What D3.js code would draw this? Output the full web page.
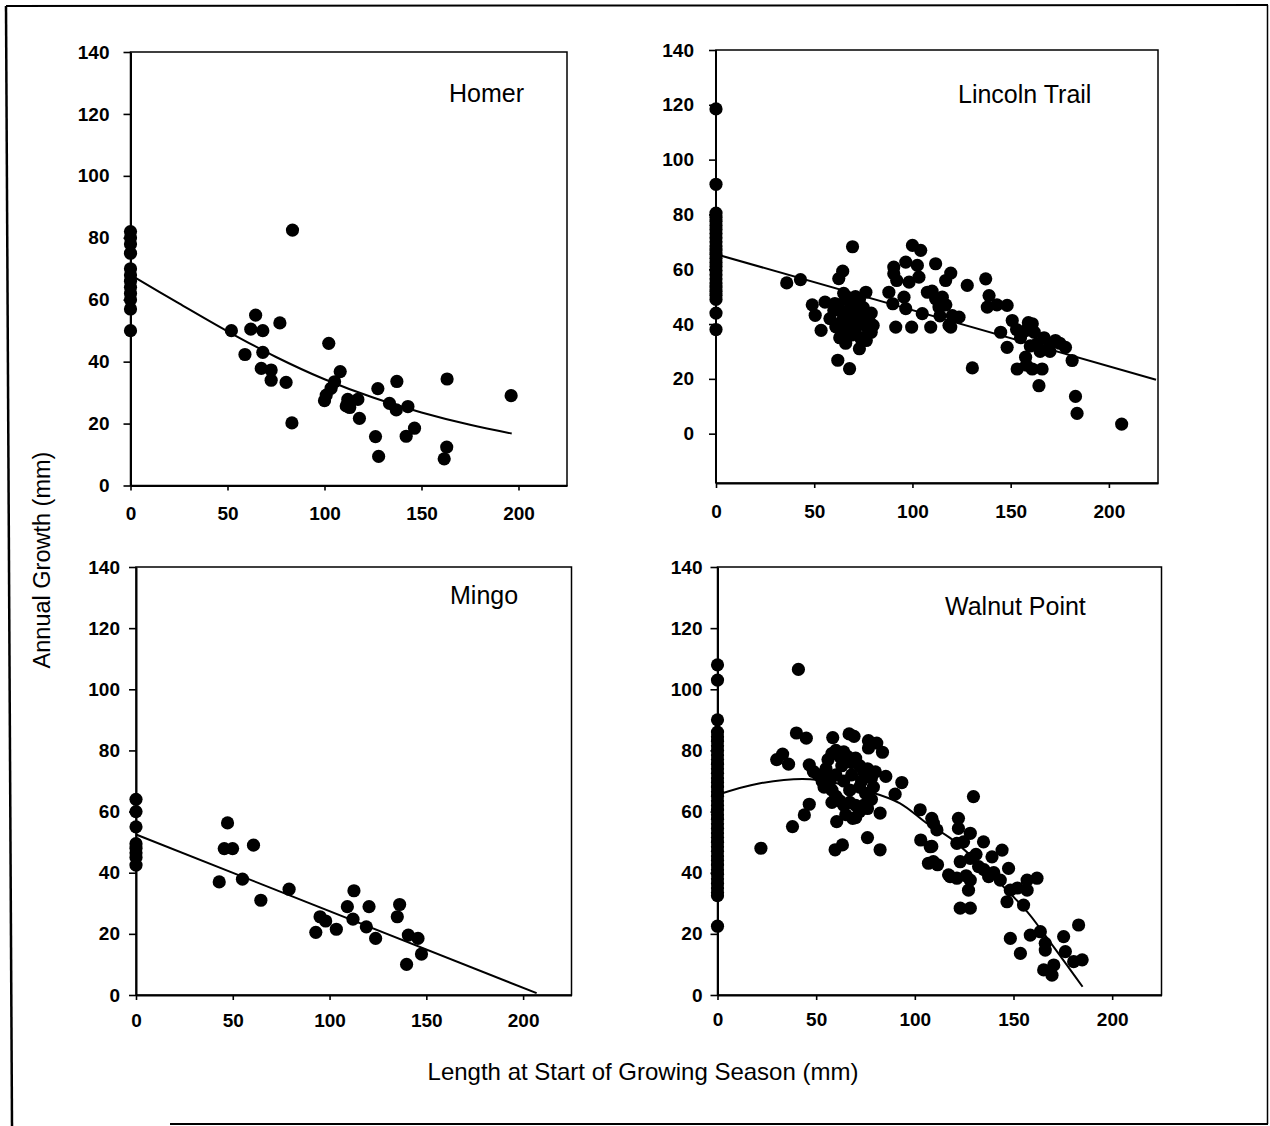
<!DOCTYPE html>
<html><head><meta charset="utf-8">
<script src="https://cdn.jsdelivr.net/npm/d3@7"></script>
<style>
body{margin:0;background:#fff}
svg{display:block}
text{font-family:"Liberation Sans",Arial,Helvetica,sans-serif;fill:#000}
</style></head>
<body><svg id="chart" width="1270" height="1126"></svg>
<script>
// ---------- data ----------
const xTicks = [0, 50, 100, 150, 200];
const yTicks = [0, 20, 40, 60, 80, 100, 120, 140];
const siteNames = ["Homer", "Lincoln Trail", "Mingo", "Walnut Point"];
const xTitle = "Length at Start of Growing Season (mm)";
const yTitle = "Annual Growth (mm)";

// [length at start (mm), annual growth (mm)]
const homerPoints = [
  [0,82],[0,80],[0,78],[0,75],[0,70],[0,68],[0,66],[0,64],[0,62],[0,60],[0,57],[0,50],
  [52,50],[62,50.5],[64.5,55],[68.2,50],[77,52.5],[59,42.3],[68.2,43],[67.4,37.8],[72.5,37.3],
  [72.5,34],[80.2,33.3],[83.5,82.5],[83.2,20.2],[102.2,45.9],[108.1,36.8],[105.2,33.5],
  [103.4,31.4],[100.9,29.2],[100,27.4],[112,27.8],[117.2,27.8],[111.2,25.7],[113,25.2],
  [118,21.7],[126.3,15.8],[127.5,31.3],[127.9,9.4],[133.5,26.5],[137.3,33.6],[137,24.4],
  [143,25.5],[142.1,15.9],[146.4,18.5],[163.2,34.4],[163,12.4],[161.7,8.6],[196.2,29]
];
const homerFit = [[0,68],[25,58.8],[50,49.8],[75,41.5],[100,34.3],[125,28.4],[150,23.6],[175,19.6],[196.5,16.8]];

const lincolnPoints = [
  [0,118.5],[0,91],[0,80.5],[0,79],[0,77.5],[0,76],[0,74.5],[0,73],[0,71.5],[0,70],[0,68.5],
  [0,67],[0,65.5],[0,64],[0,62.5],[0,61],[0,59.5],[0,58],[0,56.5],[0,55],[0,53.5],[0,52],
  [0,50.5],[0,49],[0,44],[0,38],
  [36,55],[43,56.2],[49,47],[55.5,48],[50.5,43.2],[53.5,37.7],[62,26.8],[68,23.7],[69.5,68.2],
  [62.5,56.6],[64.5,59.3],[65,51.2],[76.3,51.6],[73,31],[79,37],
  [58,42],[60,45],[61,39],[62,47],[63,35],[64,41],[64.5,44],[65,37.5],[66,49],[67,42],[67.5,39],
  [68,45.5],[69,36],[70,47.5],[70.5,41],[71,38],[72,44],[73,49],[73.5,35],[74.5,40.5],[75,46],
  [76,43],[76.5,34],[77.5,38],[78,41],[79,44],[80,39.5],[66,33],[71,50],[60.5,47.5],
  [88,51.6],[90,47.4],[90.5,60.8],[90.5,58.4],[92,55.9],[96.6,62.6],[102.5,61.4],[103.3,57.1],
  [98.3,55.3],[95.7,49.8],[96.6,45.6],[91.5,38.9],[99.6,38.9],[100,68.7],[104.2,66.9],
  [107.6,51.6],[111.8,49.2],[105,43.8],[109.3,38.9],[113.5,46.2],[111.8,62],[119.5,58.6],
  [116.9,55.9],[119.5,38.9],[120.3,43.1],[115.2,49.8],[118.6,39.5],[123.7,42.5],[110,52],
  [114,43],[117,47],[127.9,54.1],[130.5,24],
  [137.3,56.5],[139,50.4],[138.1,46.2],[148.2,46.8],[143,47],[150.8,41.3],[144.9,37],[148.2,31.5],
  [161,40.1],[157.6,37.6],[163.5,32.8],[157.6,27.9],[153.3,23.6],[161,23.6],[166,23.6],[164.4,17.5],
  [172.8,34],[177.9,31.5],[169.4,31.5],[181.3,26.7],[183,13.6],[183.8,7.4],[206.5,3.5],
  [155,35],[159,40.5],[162,37],[165,30],[167,35],[160,32],[153,38],[170,30],[175,33],[158,25]
];
const lincolnFit = [[0,65.5],[224,19.7]];

const mingoPoints = [
  [0,64],[0,60],[0,55],[0,49.5],[0,48],[0,46.5],[0,45],[0,42.5],
  [43,37],[47.3,56.3],[45.6,47.9],[49.9,47.9],[60.7,49],[55,37.9],[64.5,31],[79.1,34.6],
  [92.9,20.5],[95.1,25.6],[98,24.2],[103.5,21.5],[109.2,28.9],[112.6,34.1],[112.1,24.8],
  [120.4,28.9],[119,22.3],[123.8,18.5],[135,25.6],[136.2,29.6],[140.7,19.6],[139.8,10],
  [145.7,18.5],[147.5,13.4]
];
const mingoFit = [[0,52.5],[207,0.6]];

const walnutPoints = [
  [0,108],[0,103],[0,90],[0,86],[0,84.5],[0,83],[0,81.5],[0,80],[0,78.5],[0,77],[0,75.5],[0,74],
  [0,72.5],[0,71],[0,69.5],[0,68],[0,66.5],[0,65],[0,63.5],[0,62],[0,60.5],[0,59],[0,57.5],[0,56],
  [0,54.5],[0,53],[0,51.5],[0,50],[0,48.5],[0,47],[0,45.5],[0,44],[0,42.5],[0,41],[0,39.5],[0,38],
  [0,36.5],[0,35],[0,33.5],[0,32.5],[0,22.5],
  [22,48],[30,77],[33,78.8],[36,75.5],[41,106.5],[40,85.7],[45,84],[38,55.1],[44,58.9],[46.5,62.4],
  [46.5,75.3],[48.6,73.1],[51,72],[53,70],[55,74],[54,68],[58.4,84.2],[66.7,85.4],[69.2,84.6],
  [76.5,83.2],[80.7,82.4],[83.6,79.4],[76.5,80.8],[85.3,71.5],[93.4,69.5],[90,65.7],[82.4,59.5],
  [76,51.5],[82.4,47.5],[60.4,56.7],[59.6,47.5],[63.3,49.1],[68.5,57.8],
  [56,77],[58,79],[60,80],[62,78],[64,79.5],[66,78],[68,76],[70,77.5],[72,75],[74,73],[76,74],
  [78,71],[79,68],[78,64],[76,61],[74,62],[72,60],[70,62],[67,63],[64,62],[62,63.5],[60,65],
  [58,67],[57,70],[56,72],[60,72],[64,70],[67,67],[72,68],[75,66],[70,58],[65,59],[80,73],
  [58,63],[63,75],[68,72],[73,70],
  [102.7,60.6],[103,50.7],[108.6,48.6],[106.9,43.1],[111.5,42.6],[108.6,57.8],[111.2,54],
  [117.1,39.3],[121.3,38.2],[129.7,64.9],[109.4,56.2],[122.1,57.8],[122.1,54.5],[128.1,52.9],
  [134.8,50.1],[124.7,50.1],[121.3,49.6],[144.2,47.4],[139.1,45.2],[128.1,44.7],[123,43.6],
  [132.3,42],[117.9,38.7],[128.1,37.6],[137.4,38.7],[143.3,37.6],[147.5,41.4],[127.2,34.3],
  [148.4,34.3],[156.9,34.3],[161.9,38.2],[156.9,37.6],[146.7,30.5],[155.1,29.4],[123,28.4],
  [128.1,28.4],[148.4,18.5],[153.5,13.6],[158.5,19.6],[163.6,20.7],[166.1,16.9],[166.1,14.7],
  [165.3,8.2],[169.5,6.5],[170.4,9.8],[175.4,19.1],[176.3,14.2],[183,22.9],[184.8,11.5],
  [180.5,10.9],[107.8,48.5],[109.4,43.6],[131,46],[135,41],[140,40],[126,39],[152,35]
];
const walnutFit = [[0,65.5],[21,69.2],[47,70.6],[77,66.5],[92.5,62.7],[106,56.2],[118,51.3],[140,38.5],[157,27.2],[164,21.3],[185,2.7]];

// ---------- layout ----------
const panels = [
  {name: siteNames[0], pts: homerPoints, fit: homerFit, yMin: 0,
   L: 130.5, R: 567, T: 52, B: 485.5, tx: 449, ty: 102, xPad: 16, yPad: 14},
  {name: siteNames[1], pts: lincolnPoints, fit: lincolnFit, yMin: -18,
   L: 716, R: 1158, T: 50, B: 483, tx: 958, ty: 103, xPad: 17, yPad: 15},
  {name: siteNames[2], pts: mingoPoints, fit: mingoFit, yMin: 0,
   L: 136, R: 571.5, T: 567, B: 995, tx: 450, ty: 604, xPad: 14, yPad: 9},
  {name: siteNames[3], pts: walnutPoints, fit: walnutFit, yMin: 0,
   L: 717.5, R: 1161.5, T: 567, B: 995, tx: 945, ty: 615, xPad: 13, yPad: 8}
];

const svg = d3.select("#chart");
svg.append("rect").attr("width",1270).attr("height",1126).attr("fill","#fff");

// outer figure border
const border = svg.append("g").attr("stroke","#000").attr("fill","none");
border.append("line").attr("x1",6).attr("y1",6).attr("x2",1268).attr("y2",5).attr("stroke-width",2);
border.append("line").attr("x1",6).attr("y1",6).attr("x2",12).attr("y2",1126).attr("stroke-width",2.5);
border.append("line").attr("x1",1267.5).attr("y1",5).attr("x2",1267.5).attr("y2",1124).attr("stroke-width",1.5);
border.append("line").attr("x1",170).attr("y1",1124).attr("x2",1268).attr("y2",1124).attr("stroke-width",2);

panels.forEach(p => {
  const x = d3.scaleLinear().domain([0,225]).range([p.L, p.R]);
  const y = d3.scaleLinear().domain([p.yMin,140]).range([p.B, p.T]);
  const g = svg.append("g");

  // plot frame
  g.append("rect").attr("x",p.L).attr("y",p.T).attr("width",p.R-p.L).attr("height",p.B-p.T)
    .attr("fill","none").attr("stroke","#000").attr("stroke-width",1.5);

  // axes
  const ya = g.append("g").attr("transform",`translate(${p.L},0)`)
    .call(d3.axisLeft(y).tickValues(yTicks).tickSize(7).tickPadding(p.yPad).tickSizeOuter(0));
  const xa = g.append("g").attr("transform",`translate(0,${p.B})`)
    .call(d3.axisBottom(x).tickValues(xTicks).tickSize(5).tickPadding(p.xPad).tickSizeOuter(0));
  [ya, xa].forEach(a => {
    a.select(".domain").attr("stroke","#000").attr("stroke-width",2);
    a.selectAll(".tick line").attr("stroke","#000").attr("stroke-width",1.6);
    a.selectAll(".tick text").attr("font-family","'Liberation Sans',Arial,sans-serif")
      .attr("font-size",19).attr("font-weight","bold").attr("fill","#000");
  });
  if (p.yMin < 0) {
    ya.select(".domain").attr("d",`M0,${p.B}V${p.T}`);
  }

  // fitted curve
  const line = d3.line().x(d => x(d[0])).y(d => y(d[1])).curve(d3.curveCatmullRom.alpha(0.5));
  g.append("path").datum(p.fit).attr("d",line).attr("fill","none")
    .attr("stroke","#000").attr("stroke-width",2);

  // points
  g.append("g").selectAll("circle").data(p.pts).join("circle")
    .attr("cx",d => x(d[0])).attr("cy",d => y(d[1])).attr("r",6.6).attr("fill","#000");

  // site title
  g.append("text").attr("x",p.tx).attr("y",p.ty).attr("font-size",25).text(p.name);
});

// axis titles
svg.append("text").attr("x",643).attr("y",1072).attr("dy","0.35em").attr("text-anchor","middle")
  .attr("font-size",24).text(xTitle);
svg.append("text").attr("transform","translate(42,560) rotate(-90)").attr("dy","0.35em")
  .attr("text-anchor","middle").attr("font-size",23.5).text(yTitle);
</script>
</body></html>
